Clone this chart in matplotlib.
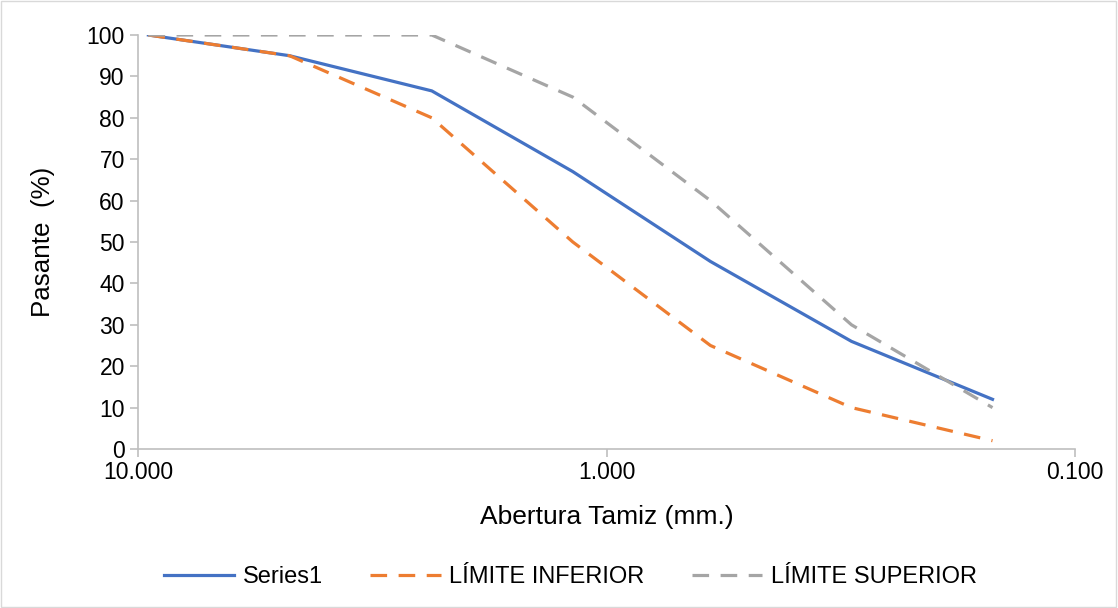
import numpy as np
import matplotlib
matplotlib.use("Agg")
import matplotlib.pyplot as plt
from matplotlib.ticker import FixedLocator, FuncFormatter, NullLocator
from matplotlib.patches import Rectangle

plt.rcParams['font.family'] = ['Liberation Sans', 'DejaVu Sans']

# sieve openings (mm) and passing percentages
abertura = [9.5, 4.75, 2.36, 1.18, 0.6, 0.3, 0.15]
series1 = [100, 95, 86.5, 67, 45.3, 26, 12]
lim_inf = [100, 95, 80, 50, 25, 10, 2]
lim_sup = [100, 100, 100, 85, 60, 30, 10]

fig = plt.figure(figsize=(11.18, 6.08), dpi=100)
ax = fig.add_axes([138 / 1118, 1 - 449 / 608, (1075 - 138) / 1118, (449 - 35) / 608])

dash = (0, (5.2, 3.6))
ax.plot(abertura, series1, color='#4472C4', lw=2.3, label='Series1')
ax.plot(abertura, lim_inf, color='#ED7D31', lw=2.3, ls=dash, label='LÍMITE INFERIOR')
ax.plot(abertura, lim_sup, color='#A5A5A5', lw=2.3, ls=dash, label='LÍMITE SUPERIOR')

ax.set_xscale('log')
ax.set_xlim(10, 0.1)
ax.set_ylim(0, 100)
ax.xaxis.set_major_locator(FixedLocator([10, 1, 0.1]))
ax.xaxis.set_minor_locator(NullLocator())
ax.xaxis.set_major_formatter(FuncFormatter(lambda v, p: f'{v:.3f}'))
ax.set_yticks(np.arange(0, 101, 10))

for s in ['top', 'right']:
    ax.spines[s].set_visible(False)
for s in ['left', 'bottom']:
    ax.spines[s].set_color('#BFBFBF')
    ax.spines[s].set_linewidth(1.2)
ax.tick_params(axis='both', colors='#BFBFBF', labelcolor='black', labelsize=16.5, length=5.5, width=1.2)
ax.tick_params(axis='x', pad=3)
ax.tick_params(axis='y', pad=4)

ax.set_xlabel('Abertura Tamiz (mm.)', fontsize=19)
ax.set_ylabel('Pasante  (%)', fontsize=18.7)
ax.xaxis.set_label_coords(0.5, (449 - 517) / 414)
ax.yaxis.set_label_coords((43 - 138) / 937, 0.5)
ax.xaxis.label.set_va('center')
ax.yaxis.label.set_va('center')

fig.legend(loc='center', bbox_to_anchor=(0.51, 1 - 577 / 608), ncol=3, frameon=False,
           fontsize=17, handlelength=3.0, columnspacing=2.0, handletextpad=0.35)

fig.patches.append(Rectangle((0.0005, 0.001), 0.998, 0.997, transform=fig.transFigure,
                             fill=False, edgecolor='#D9D9D9', lw=1))

fig.savefig('out.png', dpi=100)
